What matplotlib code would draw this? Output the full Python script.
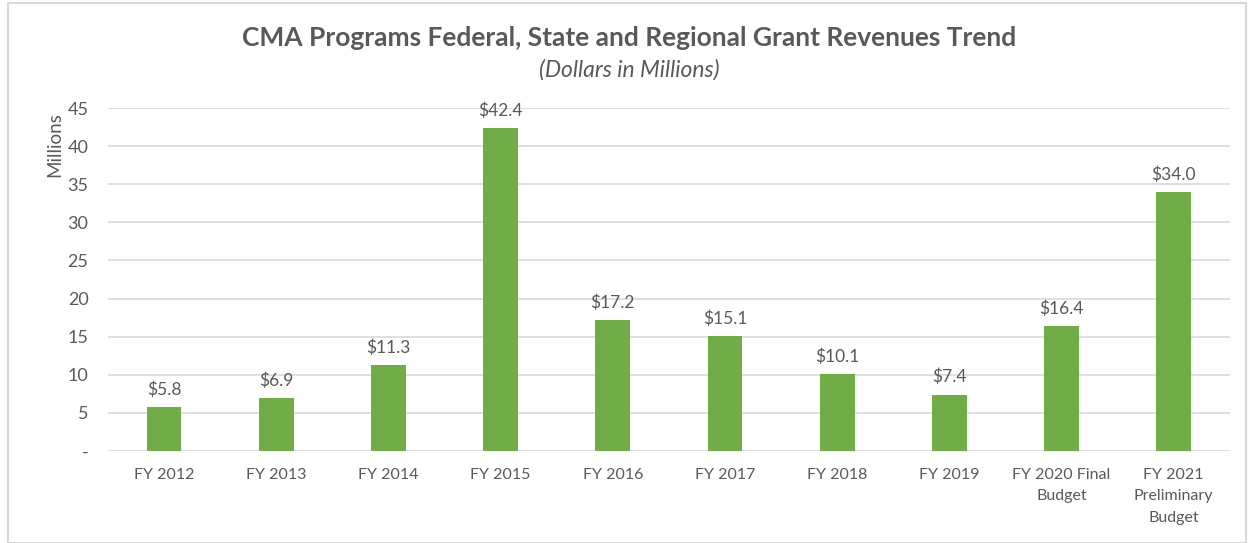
import matplotlib
matplotlib.use("Agg")
import matplotlib.pyplot as plt
from matplotlib.patches import Rectangle

plt.rcParams['font.family'] = ['Lato', 'DejaVu Sans']

categories = ["FY 2012", "FY 2013", "FY 2014", "FY 2015", "FY 2016", "FY 2017",
              "FY 2018", "FY 2019", "FY 2020 Final\nBudget",
              "FY 2021\nPreliminary\nBudget"]
revenues = [5.8, 6.9, 11.3, 42.4, 17.2, 15.1, 10.1, 7.4, 16.4, 34.0]
yticks = [0, 5, 10, 15, 20, 25, 30, 35, 40, 45]
ytick_labels = ["-", "5", "10", "15", "20", "25", "30", "35", "40", "45"]

text_col = "#595959"
grid_col = "#D9D9D9"
bar_col = "#70AD47"

fig = plt.figure(figsize=(12.51, 5.43), dpi=100)
fig.patches.append(Rectangle((0.006, 0.0), 0.99, 0.995, transform=fig.transFigure,
                             fill=False, edgecolor=grid_col, linewidth=1.5))
ax = fig.add_axes([0.0863, 0.1694, 0.8967, 0.6316])

x = list(range(len(categories)))
bars = ax.bar(x, revenues, width=0.31, color=bar_col, zorder=3)
for xi, v in zip(x, revenues):
    ax.text(xi, v + 1.2, "$%.1f" % v, ha='center', va='bottom', fontsize=12.5, color=text_col)

ax.set_xlim(-0.5, len(categories) - 0.5)
ax.set_ylim(0, 45)
ax.set_yticks(yticks)
ax.set_yticklabels(ytick_labels)
ax.set_xticks(x)
ax.set_xticklabels(categories, linespacing=1.7)
ax.tick_params(axis='both', length=0, labelcolor=text_col)
ax.tick_params(axis='x', pad=12, labelsize=11.5)
ax.tick_params(axis='y', pad=14, labelsize=13)
ax.yaxis.grid(True, color=grid_col, linewidth=1.2, zorder=0)
for s in ax.spines.values():
    s.set_visible(False)

ax.set_ylabel("Millions", fontsize=13.5, color=text_col)
ax.yaxis.set_label_coords(-0.04, 0.895)

fig.text(0.503, 0.930, "CMA Programs Federal, State and Regional Grant Revenues Trend",
         ha='center', va='center', fontsize=19, fontweight='bold', color=text_col)
fig.text(0.503, 0.871, "(Dollars in Millions)", ha='center', va='center',
         fontsize=16.5, style='italic', color=text_col)

fig.savefig("out.png", dpi=100)
